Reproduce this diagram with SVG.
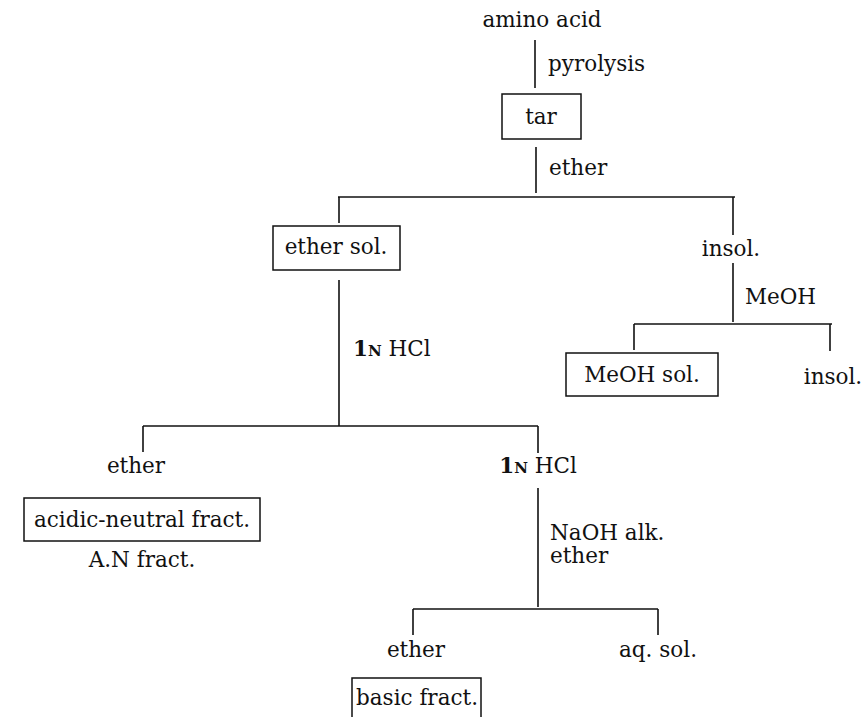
<svg xmlns="http://www.w3.org/2000/svg" width="867" height="717" viewBox="0 0 867 717">
<style>
text{font-family:"DejaVu Serif","Liberation Serif",serif;font-size:21.5px;fill:#111}
.m{text-anchor:middle}
.b{font-weight:bold}
.sc{font-size:15px}
.ln line{stroke:#111;stroke-width:1.6}
.v{stroke-width:2}
.box{fill:none;stroke:#111;stroke-width:1.5}
</style>
<rect width="867" height="717" fill="#fff"/>
<g class="ln" id="connectors">
<line class="v" x1="535" y1="40" x2="535" y2="88"/>
<line class="v" x1="536" y1="147" x2="536" y2="193"/>
<line x1="338" y1="197" x2="735" y2="197"/>
<line x1="339" y1="197" x2="339" y2="223"/>
<line x1="733" y1="197" x2="733" y2="235"/>
<line class="v" x1="733" y1="263" x2="733" y2="322"/>
<line x1="634" y1="324" x2="832" y2="324"/>
<line x1="634" y1="324" x2="634" y2="350"/>
<line x1="830" y1="324" x2="830" y2="351"/>
<line class="v" x1="339" y1="280" x2="339" y2="426"/>
<line x1="143" y1="426" x2="538" y2="426"/>
<line x1="143" y1="426" x2="143" y2="452"/>
<line x1="538" y1="426" x2="538" y2="453"/>
<line class="v" x1="538" y1="488" x2="538" y2="607"/>
<line x1="413" y1="609" x2="658" y2="609"/>
<line x1="413" y1="609" x2="413" y2="635"/>
<line x1="658" y1="609" x2="658" y2="635"/>
<text x="548" y="71">pyrolysis</text>
<text x="549" y="175">ether</text>
<text x="745" y="304">MeOH</text>
<text x="353" y="356"><tspan class="b">1</tspan><tspan class="sc b">N</tspan> HCl</text>
<text x="550" y="540">NaOH alk.</text>
<text x="550" y="563">ether</text>
</g>
<g id="n-amino"><text class="m" x="542" y="27">amino acid</text></g>
<g id="n-tar"><rect class="box" x="502" y="94" width="79" height="45"/><text class="m" x="541" y="124">tar</text></g>
<g id="n-ethersol"><rect class="box" x="273" y="226" width="127" height="44"/><text class="m" x="336" y="254">ether sol.</text></g>
<g id="n-insol1"><text class="m" x="731" y="256">insol.</text></g>
<g id="n-meohsol"><rect class="box" x="566" y="353" width="152" height="43"/><text class="m" x="642" y="382">MeOH sol.</text></g>
<g id="n-insol2"><text class="m" x="833" y="384">insol.</text></g>
<g id="n-ether1"><text class="m" x="136" y="473">ether</text></g>
<g id="n-acidic"><rect class="box" x="24" y="498" width="236" height="43"/><text class="m" x="142" y="527">acidic-neutral fract.</text><text class="m" x="142" y="567">A.N fract.</text></g>
<g id="n-hcl2"><text class="m" x="538" y="473"><tspan class="b">1</tspan><tspan class="sc b">N</tspan> HCl</text></g>
<g id="n-ether2"><text class="m" x="416" y="657">ether</text></g>
<g id="n-aqsol"><text class="m" x="658" y="657">aq. sol.</text></g>
<g id="n-basic"><rect class="box" x="352" y="678" width="129" height="50"/><text class="m" x="417" y="705">basic fract.</text></g>
</svg>
